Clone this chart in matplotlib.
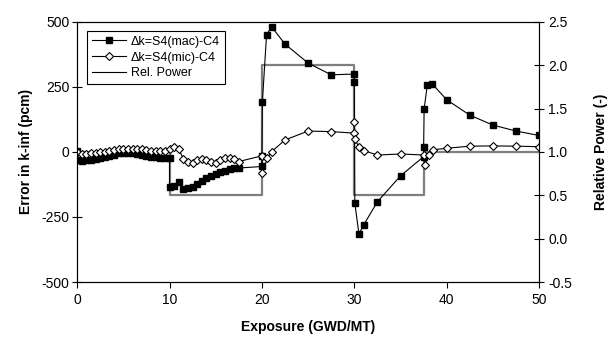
import matplotlib.pyplot as plt
import numpy as np

plt.rcParams['font.family'] = ['Liberation Sans', 'DejaVu Sans']
plt.rcParams['axes.unicode_minus'] = False

# Delta k = S4(mac) - C4, pcm
mac_x = [0, 0.15, 0.5, 1, 1.5, 2, 2.5, 3, 3.5, 4, 4.5, 5, 5.5, 6, 6.5, 7, 7.5, 8, 8.5, 9, 9.5, 10,
         10, 10.5, 11, 11.5, 12, 12.5, 13, 13.5, 14, 14.5, 15, 15.5, 16, 16.5, 17, 17.5,
         20, 20, 20.05, 20.5, 21.05, 22.5, 25, 27.5, 30, 30,
         30.05, 30.5, 31, 32.5, 35, 37.5, 37.5, 37.55, 37.9, 38.4, 40, 42.5, 45, 47.5, 50]
mac_y = [5, -30, -35, -33, -30, -28, -25, -20, -15, -10, -6, -4, -4, -6, -9, -13, -16, -19, -21, -23, -24, -22,
         -136, -130, -114, -143, -140, -135, -125, -112, -100, -92, -85, -78, -72, -66, -63, -62,
         -56, -14, 193, 450, 480, 414, 341, 296, 299, 268,
         -197, -315, -281, -191, -92, -18, 20, 165, 258, 262, 200, 141, 103, 80, 63]

# Delta k = S4(mic) - C4, pcm
mic_x = [0, 0.5, 1, 1.5, 2, 2.5, 3, 3.5, 4, 4.5, 5, 5.5, 6, 6.5, 7, 7.5, 8, 8.5, 9, 9.5, 10,
         10.5, 11, 11.5, 12, 12.5, 13, 13.5, 14, 14.5, 15, 15.5, 16, 16.5, 17, 17.5,
         20, 20.05, 20.6, 21.05, 22.5, 25, 27.5, 30, 30, 30.05, 30.5, 31, 32.5, 35,
         37.5, 37.6, 38.1, 38.5, 40, 42.5, 45, 47.5, 50]
mic_y = [0, -8, -7, -5, -4, -2, 0, 3, 7, 10, 12, 12, 12, 11, 10, 8, 5, 3, 2, 4, 10,
         17, 12, -28, -37, -41, -33, -28, -32, -37, -42, -33, -25, -22, -29, -37,
         -15, -82, -22, 1, 46, 80, 78, 72, 115, 50, 18, 5, -12, -8,
         -12, -52, -10, 8, 14, 22, 23, 22, 20]

# Relative power history (step)
pow_x = [0, 10, 10, 20, 20, 30, 30, 37.5, 37.5, 50]
pow_y = [1.0, 1.0, 0.5, 0.5, 2.0, 2.0, 0.5, 0.5, 1.0, 1.0]

fig = plt.figure(figsize=(6.12, 3.5), dpi=100)
ax = fig.add_axes([0.126, 0.194, 0.755, 0.744])
ax2 = ax.twinx()

# power line underneath the error curves
ax.set_zorder(ax2.get_zorder() + 1)
ax.patch.set_visible(False)

p_line, = ax2.plot(pow_x, pow_y, color='#7f7f7f', linewidth=1.6, label='Rel. Power')
mac_line, = ax.plot(mac_x, mac_y, color='black', linewidth=0.8, marker='s', markersize=5,
                    markerfacecolor='black', markeredgecolor='black', label='\u0394k=S4(mac)-C4')
mic_line, = ax.plot(mic_x, mic_y, color='black', linewidth=0.8, marker='D', markersize=4,
                    markerfacecolor='white', markeredgecolor='black', markeredgewidth=0.8,
                    label='\u0394k=S4(mic)-C4')

ax.set_xlim(0, 50)
ax.set_ylim(-500, 500)
ax.set_xticks(np.arange(0, 51, 10))
ax.set_yticks(np.arange(-500, 501, 250))
ax2.set_ylim(-0.5, 2.5)
ax2.set_yticks(np.arange(-0.5, 2.51, 0.5))
ax2.set_yticklabels(['%.1f' % v for v in np.arange(-0.5, 2.51, 0.5)])

for a in (ax, ax2):
    for s in a.spines.values():
        s.set_linewidth(0.8)
ax.tick_params(axis='y', direction='inout', length=7, width=0.8, labelsize=10, pad=2)
ax.tick_params(axis='x', direction='out', length=4, width=0.8, labelsize=10, pad=4)
ax2.tick_params(axis='y', direction='inout', length=7, width=0.8, labelsize=10, pad=3)

ax.set_xlabel('Exposure (GWD/MT)', fontsize=10, fontweight='bold', labelpad=9)
ax.set_ylabel('Error in k-inf (pcm)', fontsize=10, fontweight='bold', labelpad=6)
ax2.set_ylabel('Relative Power (-)', fontsize=10, fontweight='bold', labelpad=16)

leg_line = plt.Line2D([], [], color='black', linewidth=0.8, label='Rel. Power')
leg = ax.legend(handles=[mac_line, mic_line, leg_line], loc='upper left',
                bbox_to_anchor=(0.022, 0.965), fontsize=9, frameon=True, fancybox=False,
                edgecolor='black', framealpha=1, borderaxespad=0, handlelength=2.7,
                labelspacing=0.3, borderpad=0.4, handletextpad=0.4)
leg.get_frame().set_linewidth(0.8)

fig.savefig('out.png', dpi=100)
